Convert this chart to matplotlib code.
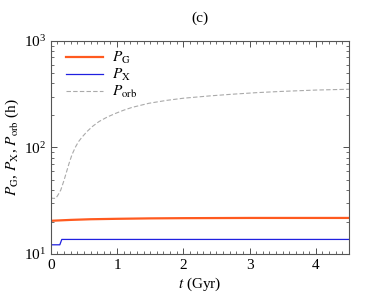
import matplotlib
matplotlib.use("Agg")
import matplotlib.pyplot as plt
from matplotlib.ticker import MultipleLocator

plt.rcParams["font.family"] = ["Liberation Serif", "DejaVu Serif"]
plt.rcParams["mathtext.fontset"] = "stix"

# data
t_g = [0.0, 0.3, 0.6, 1.0, 1.5, 2.0, 3.0, 4.5]
p_g = [20.5, 20.9, 21.2, 21.4, 21.6, 21.7, 21.8, 21.8]

t_x = [0.0, 0.135, 0.165, 4.5]
p_x = [12.2, 12.2, 13.7, 13.7]

t_orb = [0.0, 0.025, 0.075, 0.11, 0.15, 0.2, 0.24, 0.275, 0.32, 0.375, 0.42, 0.475,
         0.55, 0.63, 0.726, 0.85, 0.977, 1.1, 1.227, 1.48, 1.75, 2.0, 2.4, 2.73,
         3.1, 3.48, 4.0, 4.5]
p_orb = [34, 33.3, 33.3, 36, 39.9, 49.5, 60, 71, 86, 102, 114, 126,
         142, 158, 175, 193, 209, 224, 238, 260, 277, 290, 305, 316,
         327, 336, 346, 352]

fig = plt.figure(figsize=(3.74, 2.99), dpi=100)
ax = fig.add_axes([0.136, 0.1505, 0.797, 0.7125])

ax.plot(t_g, p_g, color="#ff5a1f", lw=1.6, label=r"$P_{\rm G}$")
ax.plot(t_x, p_x, color="#2020e0", lw=0.9, label=r"$P_{\rm X}$")
ax.plot(t_orb, p_orb, color="#aaaaaa", lw=0.8, ls=(0, (4, 2)), label=r"$P_{\rm orb}$")

ax.set_yscale("log")
ax.set_xlim(0, 4.5)
ax.set_ylim(10, 1000)
ax.xaxis.set_major_locator(MultipleLocator(1))
ax.xaxis.set_minor_locator(MultipleLocator(0.1))
ax.tick_params(which="both", direction="in", top=True, right=True, labelsize=11, colors="#333333")
ax.tick_params(which="major", length=4, width=0.6)
ax.tick_params(which="minor", length=2, width=0.5)
for s in ax.spines.values():
    s.set_color("#555555")
    s.set_linewidth(0.8)
for lbl in ax.get_xticklabels() + ax.get_yticklabels():
    lbl.set_color("black")

ax.set_xlabel(r"$t$ (Gyr)", fontsize=11, labelpad=3)
ax.set_ylabel(r"$P_{\rm G}$, $P_{\rm X}$, $P_{\rm orb}$ (h)", fontsize=11, labelpad=2)
ax.set_title("(c)", fontsize=11, pad=14)

ax.legend(loc="upper left", frameon=False, fontsize=11, handlelength=2.4,
          handletextpad=0.6, labelspacing=0.05, borderaxespad=0.2, bbox_to_anchor=(0.02, 1.0))

fig.savefig("out.png", dpi=100)
